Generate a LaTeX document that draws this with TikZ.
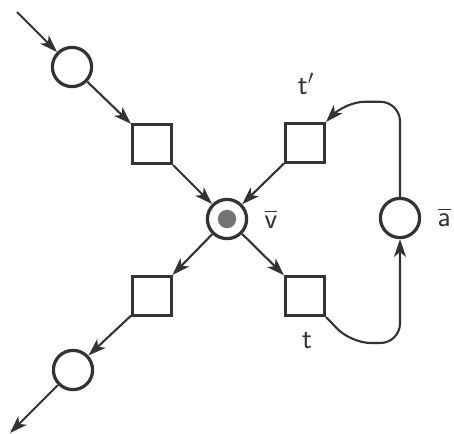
\documentclass[tikz,border=0pt]{standalone}
\usepackage{amsmath}
\usepackage{tikz}
\usetikzlibrary{positioning,arrows.meta}
\begin{document}
\begin{tikzpicture}[x=0.025cm,y=-0.025cm,
place/.style={draw=black!80,circle,line width=2.3pt,minimum size=0.98cm,inner sep=0pt},
trans/.style={draw=black!80,line width=2.3pt,minimum size=0.97cm,inner sep=0pt},
dot/.style={circle,fill=black!55,minimum size=4.6mm,inner sep=0pt},
arrow/.style={-{Stealth[length=4.4mm,width=3mm,inset=1.2mm]},draw=black!80,line width=1.5pt},
lbl/.style={text=black!80,font=\sffamily\fontsize{20}{24}\selectfont}]
\useasboundingbox (0,0) rectangle (454,434);
\coordinate(in) at (17,12);
\node[place](p1) at (72,67){};
\node[trans](t1) at (152,144){};
\node[place](v) at (227,219){};\node[dot] at (v){};
\node[trans](t2) at (305,143){};
\node[trans](t3) at (152,296){};
\node[trans](t4) at (305,296){};
\node[place](p2) at (73,370){};
\coordinate(out) at (10,433);
\node[place](a) at (400,218){};
\node[lbl] at (306,84){$\mathsf{t}'$};
\node[lbl] at (307,340){$\mathsf{t}$};
\node[lbl] at (271,219){$\overline{\mathsf{v}}$};
\node[lbl,anchor=west] at (433,217){$\overline{\mathsf{a}}$};
\draw[arrow](in)--(p1);\draw[arrow](p1)--(t1);\draw[arrow](t1)--(v);\draw[arrow](t2)--(v);
\draw[arrow](v)--(t3);\draw[arrow](v)--(t4);\draw[arrow](t3)--(p2);\draw[arrow](p2)--(out);
\draw[arrow,rounded corners=14pt](a.north)--++(0,-95)--++(-55,0)--(t2.north east);
\draw[arrow,rounded corners=14pt](t4.south east)--++(25,26)-|(a.south);
\end{tikzpicture}
\end{document}
